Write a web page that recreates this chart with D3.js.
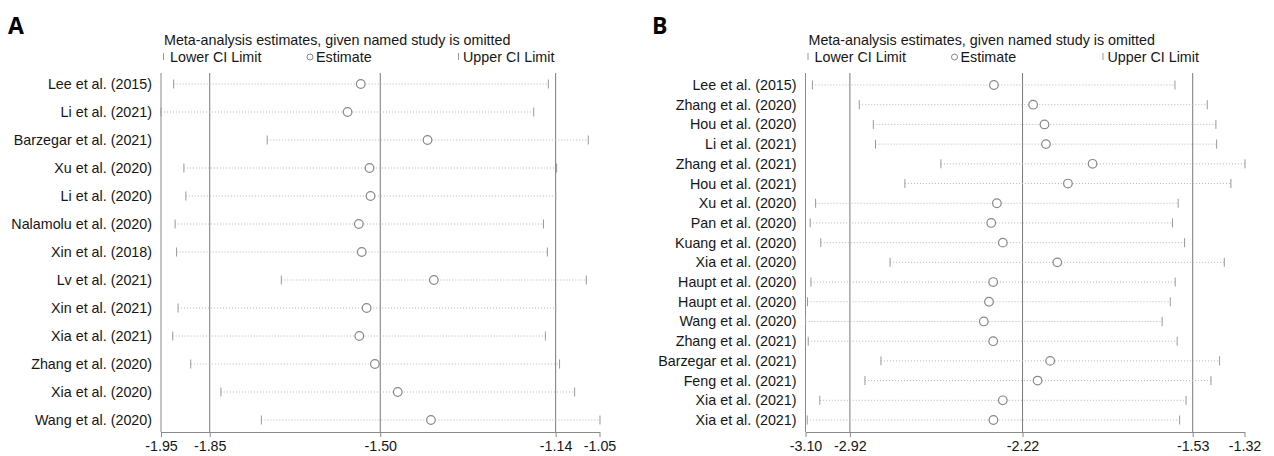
<!DOCTYPE html>
<html>
<head>
<meta charset="utf-8">
<script src="https://cdn.jsdelivr.net/npm/d3@7"></script>
<style>
  body { margin: 0; background: #fff; }
  svg text { font-family: "Liberation Sans", Arial, sans-serif; fill: #161616; }
</style>
</head>
<body>
<div id="chart"></div>
<script>
// Panel A: leave-one-out estimates
const studiesA = [
  'Lee et al. (2015)', 'Li et al. (2021)', 'Barzegar et al. (2021)', 'Xu et al. (2020)',
  'Li et al. (2020)', 'Nalamolu et al. (2020)', 'Xin et al. (2018)', 'Lv et al. (2021)',
  'Xin et al. (2021)', 'Xia et al. (2021)', 'Zhang et al. (2020)', 'Xia et al. (2020)',
  'Wang et al. (2020)'
];
const lowerA = [-1.924, -1.950, -1.732, -1.903, -1.899, -1.921, -1.918, -1.703, -1.915, -1.926, -1.889, -1.827, -1.744];
const estimateA = [-1.540, -1.567, -1.403, -1.522, -1.520, -1.544, -1.538, -1.390, -1.528, -1.543, -1.511, -1.464, -1.396];
const upperA = [-1.155, -1.185, -1.073, -1.138, -1.140, -1.165, -1.157, -1.077, -1.140, -1.161, -1.132, -1.101, -1.049];
const refLinesA = [-1.85, -1.50, -1.14];
const ticksA = [-1.95, -1.85, -1.50, -1.14, -1.05];

// Panel B
const studiesB = [
  'Lee et al. (2015)', 'Zhang et al. (2020)', 'Hou et al. (2020)', 'Li et al. (2021)',
  'Zhang et al. (2021)', 'Hou et al. (2021)', 'Xu et al. (2020)', 'Pan et al. (2020)',
  'Kuang et al. (2020)', 'Xia et al. (2020)', 'Haupt et al. (2020)', 'Haupt et al. (2020)',
  'Wang et al. (2020)', 'Zhang et al. (2021)', 'Barzegar et al. (2021)', 'Feng et al. (2021)',
  'Xia et al. (2021)', 'Xia et al. (2021)'
];
const lowerB = [-3.072, -2.882, -2.825, -2.816, -2.551, -2.697, -3.059, -3.081, -3.038, -2.757, -3.078, -3.092, -3.100, -3.089, -2.794, -2.859, -3.042, -3.093];
const estimateB = [-2.336, -2.177, -2.131, -2.125, -1.936, -2.036, -2.324, -2.347, -2.300, -2.079, -2.339, -2.356, -2.377, -2.339, -2.108, -2.159, -2.300, -2.338];
const upperB = [-1.602, -1.471, -1.436, -1.433, -1.318, -1.375, -1.589, -1.612, -1.563, -1.402, -1.601, -1.621, -1.654, -1.593, -1.421, -1.456, -1.557, -1.583];
const refLinesB = [-2.92, -2.22, -1.53];
const ticksB = [-3.10, -2.92, -2.22, -1.53, -1.32];

const title = 'Meta-analysis estimates, given named study is omitted';

const width = 1274;
const height = 456;
const fontSize = '14.3px';

const svg = d3.select('#chart')
  .append('svg')
  .attr('width', width)
  .attr('height', height);

function drawPanel(p) {
  const top = 73;
  const bottom = 432;

  const x = d3.scaleLinear()
    .domain([p.ticks[0], p.ticks[p.ticks.length - 1]])
    .range([p.left, p.right]);

  const y = d3.scalePoint()
    .domain(d3.range(p.studies.length))
    .range([p.firstRow, 420]);

  const g = svg.append('g');

  // panel letter
  g.append('text')
    .attr('x', p.letterX)
    .attr('y', 34)
    .style('font-family', '"Open Sans", "DejaVu Sans", sans-serif')
    .style('font-size', '23px')
    .style('font-weight', 'bold')
    .style('fill', '#000')
    .text(p.letter);

  // title and legend
  const x0 = p.left;
  g.append('text')
    .attr('x', x0 + 3)
    .attr('y', 45)
    .style('font-size', fontSize)
    .text(title);

  const legY = 62;
  g.append('line')
    .attr('x1', x0 + 2.5).attr('x2', x0 + 2.5)
    .attr('y1', legY - 9).attr('y2', legY - 2)
    .attr('stroke', '#999');
  g.append('text')
    .attr('x', x0 + 9).attr('y', legY)
    .style('font-size', fontSize)
    .text('Lower CI Limit');
  g.append('circle')
    .attr('cx', x0 + 149).attr('cy', legY - 5).attr('r', 3)
    .attr('fill', 'none').attr('stroke', '#888');
  g.append('text')
    .attr('x', x0 + 155).attr('y', legY)
    .style('font-size', fontSize)
    .text('Estimate');
  g.append('line')
    .attr('x1', x0 + 297.5).attr('x2', x0 + 297.5)
    .attr('y1', legY - 9).attr('y2', legY - 2)
    .attr('stroke', '#999');
  g.append('text')
    .attr('x', x0 + 302).attr('y', legY)
    .style('font-size', fontSize)
    .text('Upper CI Limit');

  // left axis line
  g.append('line')
    .attr('x1', x0).attr('x2', x0)
    .attr('y1', top).attr('y2', bottom)
    .attr('stroke', '#8a8a8a');

  // overall CI / estimate reference lines
  g.selectAll('.ref')
    .data(p.refLines)
    .enter()
    .append('line')
    .attr('class', 'ref')
    .attr('x1', d => x(d)).attr('x2', d => x(d))
    .attr('y1', top).attr('y2', bottom)
    .attr('stroke', '#7a7a7a');

  // bottom axis
  const axis = d3.axisBottom(x)
    .tickValues(p.ticks)
    .tickSize(5)
    .tickSizeOuter(0)
    .tickFormat(d => d.toFixed(2));

  const ax = g.append('g')
    .attr('transform', `translate(0,${bottom})`)
    .call(axis);
  ax.select('.domain').attr('stroke', '#8a8a8a');
  ax.selectAll('.tick line').attr('stroke', '#8a8a8a');
  ax.selectAll('.tick text')
    .attr('y', 9)
    .style('font-size', fontSize)
    .style('font-family', '"Liberation Sans", Arial, sans-serif')
    .attr('fill', '#161616');

  const rows = g.selectAll('.row')
    .data(p.studies.map((s, i) => ({
      i: i, name: s, lo: p.lower[i], est: p.estimate[i], hi: p.upper[i]
    })))
    .enter()
    .append('g')
    .attr('class', 'row');

  rows.append('text')
    .attr('x', x0 - 9)
    .attr('y', d => y(d.i) + 5)
    .attr('text-anchor', 'end')
    .style('font-size', fontSize)
    .text(d => d.name);

  // dotted CI line
  rows.append('line')
    .attr('x1', d => x(d.lo)).attr('x2', d => x(d.hi))
    .attr('y1', d => y(d.i)).attr('y2', d => y(d.i))
    .attr('stroke', '#b5b5b5')
    .attr('stroke-dasharray', '1,2');

  rows.append('line')
    .attr('x1', d => x(d.lo)).attr('x2', d => x(d.lo))
    .attr('y1', d => y(d.i) - 4.5).attr('y2', d => y(d.i) + 4.5)
    .attr('stroke', '#999');

  rows.append('line')
    .attr('x1', d => x(d.hi)).attr('x2', d => x(d.hi))
    .attr('y1', d => y(d.i) - 4.5).attr('y2', d => y(d.i) + 4.5)
    .attr('stroke', '#999');

  rows.append('circle')
    .attr('cx', d => x(d.est))
    .attr('cy', d => y(d.i))
    .attr('r', 4.3)
    .attr('fill', '#fff')
    .attr('stroke', '#888')
    .attr('stroke-width', 1.2);
}

drawPanel({
  letter: 'A', letterX: 8,
  studies: studiesA, lower: lowerA, estimate: estimateA, upper: upperA,
  refLines: refLinesA, ticks: ticksA,
  left: 161, right: 599.5, firstRow: 84
});

drawPanel({
  letter: 'B', letterX: 652,
  studies: studiesB, lower: lowerB, estimate: estimateB, upper: upperB,
  refLines: refLinesB, ticks: ticksB,
  left: 805.5, right: 1244.5, firstRow: 85
});
</script>
</body>
</html>
